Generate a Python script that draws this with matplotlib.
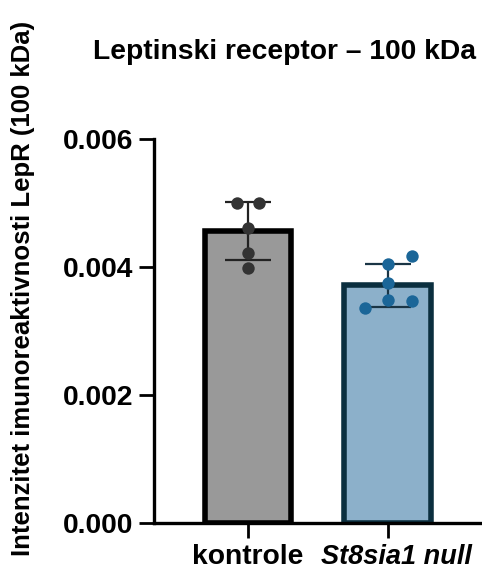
import numpy as np
import matplotlib.pyplot as plt
import matplotlib.transforms as mtransforms

plt.rcParams['font.family'] = ['Liberation Sans', 'DejaVu Sans']
plt.rcParams['font.weight'] = 'bold'

# data
groups = ['kontrole', 'St8sia1 null']
kontrole = [0.00500, 0.00500, 0.00461, 0.00422, 0.00398]
st8sia1 = [0.00417, 0.00405, 0.00375, 0.00348, 0.00347, 0.00336]
yticks = [0.000, 0.002, 0.004, 0.006]

# horizontal spread of the dots inside each bar
spread_k = [-0.08, 0.08, 0.0, 0.0, 0.0]
spread_s = [0.17, 0.0, 0.0, 0.0, 0.17, -0.16]

fill_colors = ['#999999', '#8cb0ca']
edge_colors = ['#000000', '#0b2f3f']
dot_colors = ['#333333', '#1b6698']
err_colors = ['#222222', '#1a3545']

fig = plt.figure(figsize=(4.82, 5.76), dpi=100)
ax = fig.add_axes([0.3195, 0.092, 0.676, 0.667])

values = [kontrole, st8sia1]
spreads = [spread_k, spread_s]
for i, vals in enumerate(values):
    vals = np.array(vals)
    mean = vals.mean()
    sd = vals.std(ddof=1)
    ax.bar(i, mean, width=0.62, color=fill_colors[i], edgecolor=edge_colors[i],
           linewidth=4.0, zorder=1)
    ax.errorbar(i, mean, yerr=sd, color=err_colors[i], capsize=16.5,
                elinewidth=1.6, capthick=1.6, zorder=2)
    ax.scatter(i + np.array(spreads[i]), vals, s=80, color=dot_colors[i],
               zorder=3, linewidths=0)

ax.set_xlim(-0.671, 1.657)
ax.set_ylim(0, 0.006)
ax.set_yticks(yticks)
ax.set_yticklabels(['%.3f' % t for t in yticks])
ax.set_xticks([0, 1])
ax.set_xticklabels(groups)

for s in ['top', 'right']:
    ax.spines[s].set_visible(False)
for s in ['left', 'bottom']:
    ax.spines[s].set_linewidth(2.4)
ax.tick_params(axis='both', width=2.0, length=11, labelsize=20.3, pad=4)

# italic second label sits a little right of its tick
lab = ax.get_xticklabels()[1]
lab.set_style('italic')
lab.set_fontsize(19.5)
lab.set_transform(lab.get_transform() +
                  mtransforms.ScaledTranslation(0.09, 0, fig.dpi_scale_trans))

ax.set_ylabel('Intenzitet imunoreaktivnosti LepR (100 kDa)', fontsize=18.5,
              fontweight='bold')
ax.yaxis.set_label_coords(-0.365, 0.61)
fig.text(0.591, 0.91, 'Leptinski receptor \u2013 100 kDa', fontsize=20.3,
         fontweight='bold', ha='center', va='center')

fig.savefig('out.png', dpi=100)
